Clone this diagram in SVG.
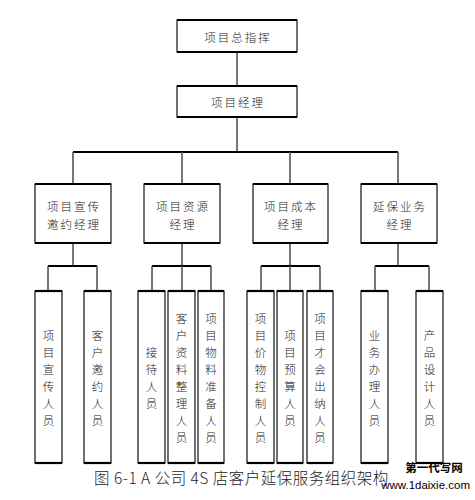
<svg xmlns="http://www.w3.org/2000/svg" width="475" height="500" viewBox="0 0 475 500">
<style>
.box{fill:#fff;stroke:#111;stroke-width:1.2}
.edge{stroke:#000;stroke-width:2.2}
.t{font-family:"Noto Sans CJK SC","Liberation Serif",serif;font-size:11.5px;font-weight:300;fill:#222;text-anchor:middle;dominant-baseline:central;letter-spacing:2px}
.v{font-family:"Noto Sans CJK SC","Liberation Serif",serif;font-size:11.5px;font-weight:300;fill:#222;text-anchor:middle;dominant-baseline:central}
.h{stroke:#000;stroke-width:2;fill:none}
.vl{stroke:#555;stroke-width:1.6;fill:none}
</style>
<g id="connectors">
<line class="vl" x1="237" y1="52" x2="237" y2="86"/>
<line class="vl" x1="237" y1="117" x2="237" y2="152"/>
<line class="h" x1="73" y1="152" x2="398" y2="152"/>
<line class="vl" x1="73" y1="152" x2="73" y2="184"/>
<line class="vl" x1="182" y1="152" x2="182" y2="184"/>
<line class="vl" x1="290" y1="152" x2="290" y2="184"/>
<line class="vl" x1="398" y1="152" x2="398" y2="184"/>
<line class="vl" x1="73" y1="243" x2="73" y2="266"/>
<line class="vl" x1="182" y1="243" x2="182" y2="266"/>
<line class="vl" x1="290" y1="243" x2="290" y2="266"/>
<line class="vl" x1="398" y1="243" x2="398" y2="266"/>
<line class="h" x1="48" y1="266" x2="97" y2="266"/>
<line class="h" x1="152" y1="266" x2="211" y2="266"/>
<line class="h" x1="261" y1="266" x2="320" y2="266"/>
<line class="h" x1="375" y1="266" x2="429" y2="266"/>
<line class="vl" x1="48" y1="266" x2="48" y2="291"/>
<line class="vl" x1="97" y1="266" x2="97" y2="291"/>
<line class="vl" x1="152" y1="266" x2="152" y2="291"/>
<line class="vl" x1="182" y1="266" x2="182" y2="291"/>
<line class="vl" x1="211" y1="266" x2="211" y2="291"/>
<line class="vl" x1="261" y1="266" x2="261" y2="291"/>
<line class="vl" x1="290" y1="266" x2="290" y2="291"/>
<line class="vl" x1="320" y1="266" x2="320" y2="291"/>
<line class="vl" x1="375" y1="266" x2="375" y2="291"/>
<line class="vl" x1="429" y1="266" x2="429" y2="291"/>
</g>
<g id="n-top">
<rect class="box" x="177" y="20" width="120" height="32"/>
<line class="edge" x1="177" y1="20" x2="297" y2="20"/><line class="edge" x1="177" y1="52" x2="297" y2="52"/>
<text class="t" x="238" y="37">项目总指挥</text>
</g>
<g id="n-pm">
<rect class="box" x="177" y="86" width="120" height="31"/>
<line class="edge" x1="177" y1="86" x2="297" y2="86"/><line class="edge" x1="177" y1="117" x2="297" y2="117"/>
<text class="t" x="238" y="102">项目经理</text>
</g>
<g id="n-m1">
<rect class="box" x="35" y="184" width="76" height="59"/>
<line class="edge" x1="35" y1="184" x2="111" y2="184"/><line class="edge" x1="35" y1="243" x2="111" y2="243"/>
<text class="t" x="74" y="206">项目宣传</text><text class="t" x="74" y="224">邀约经理</text>
</g>
<g id="n-m2">
<rect class="box" x="144" y="184" width="76" height="59"/>
<line class="edge" x1="144" y1="184" x2="220" y2="184"/><line class="edge" x1="144" y1="243" x2="220" y2="243"/>
<text class="t" x="183" y="206">项目资源</text><text class="t" x="183" y="224">经理</text>
</g>
<g id="n-m3">
<rect class="box" x="253" y="184" width="75" height="59"/>
<line class="edge" x1="253" y1="184" x2="328" y2="184"/><line class="edge" x1="253" y1="243" x2="328" y2="243"/>
<text class="t" x="291" y="206">项目成本</text><text class="t" x="291" y="224">经理</text>
</g>
<g id="n-m4">
<rect class="box" x="361" y="184" width="76" height="59"/>
<line class="edge" x1="361" y1="184" x2="437" y2="184"/><line class="edge" x1="361" y1="243" x2="437" y2="243"/>
<text class="t" x="400" y="206">延保业务</text><text class="t" x="400" y="224">经理</text>
</g>
<g id="n-b1">
<rect class="box" x="35" y="291" width="27" height="172"/>
<line class="edge" x1="35" y1="291" x2="62" y2="291"/><line class="edge" x1="35" y1="463" x2="62" y2="463"/>
<text class="v" x="48.5" y="334.5">项<tspan x="48.5" dy="17">目</tspan><tspan x="48.5" dy="17">宣</tspan><tspan x="48.5" dy="17">传</tspan><tspan x="48.5" dy="17">人</tspan><tspan x="48.5" dy="17">员</tspan></text>
</g>
<g id="n-b2">
<rect class="box" x="84" y="291" width="27" height="172"/>
<line class="edge" x1="84" y1="291" x2="111" y2="291"/><line class="edge" x1="84" y1="463" x2="111" y2="463"/>
<text class="v" x="97.5" y="334.5">客<tspan x="97.5" dy="17">户</tspan><tspan x="97.5" dy="17">邀</tspan><tspan x="97.5" dy="17">约</tspan><tspan x="97.5" dy="17">人</tspan><tspan x="97.5" dy="17">员</tspan></text>
</g>
<g id="n-b3">
<rect class="box" x="138" y="291" width="27" height="172"/>
<line class="edge" x1="138" y1="291" x2="165" y2="291"/><line class="edge" x1="138" y1="463" x2="165" y2="463"/>
<text class="v" x="151.5" y="351.5">接<tspan x="151.5" dy="17">待</tspan><tspan x="151.5" dy="17">人</tspan><tspan x="151.5" dy="17">员</tspan></text>
</g>
<g id="n-b4">
<rect class="box" x="168" y="291" width="27" height="172"/>
<line class="edge" x1="168" y1="291" x2="195" y2="291"/><line class="edge" x1="168" y1="463" x2="195" y2="463"/>
<text class="v" x="181.5" y="318">客<tspan x="181.5" dy="17">户</tspan><tspan x="181.5" dy="17">资</tspan><tspan x="181.5" dy="17">料</tspan><tspan x="181.5" dy="17">整</tspan><tspan x="181.5" dy="17">理</tspan><tspan x="181.5" dy="17">人</tspan><tspan x="181.5" dy="17">员</tspan></text>
</g>
<g id="n-b5">
<rect class="box" x="198" y="291" width="26" height="172"/>
<line class="edge" x1="198" y1="291" x2="224" y2="291"/><line class="edge" x1="198" y1="463" x2="224" y2="463"/>
<text class="v" x="211" y="318">项<tspan x="211" dy="17">目</tspan><tspan x="211" dy="17">物</tspan><tspan x="211" dy="17">料</tspan><tspan x="211" dy="17">准</tspan><tspan x="211" dy="17">备</tspan><tspan x="211" dy="17">人</tspan><tspan x="211" dy="17">员</tspan></text>
</g>
<g id="n-b6">
<rect class="box" x="247" y="291" width="27" height="172"/>
<line class="edge" x1="247" y1="291" x2="274" y2="291"/><line class="edge" x1="247" y1="463" x2="274" y2="463"/>
<text class="v" x="260.5" y="318">项<tspan x="260.5" dy="17">目</tspan><tspan x="260.5" dy="17">价</tspan><tspan x="260.5" dy="17">物</tspan><tspan x="260.5" dy="17">控</tspan><tspan x="260.5" dy="17">制</tspan><tspan x="260.5" dy="17">人</tspan><tspan x="260.5" dy="17">员</tspan></text>
</g>
<g id="n-b7">
<rect class="box" x="277" y="291" width="26" height="172"/>
<line class="edge" x1="277" y1="291" x2="303" y2="291"/><line class="edge" x1="277" y1="463" x2="303" y2="463"/>
<text class="v" x="290" y="334.5">项<tspan x="290" dy="17">目</tspan><tspan x="290" dy="17">预</tspan><tspan x="290" dy="17">算</tspan><tspan x="290" dy="17">人</tspan><tspan x="290" dy="17">员</tspan></text>
</g>
<g id="n-b8">
<rect class="box" x="307" y="291" width="26" height="172"/>
<line class="edge" x1="307" y1="291" x2="333" y2="291"/><line class="edge" x1="307" y1="463" x2="333" y2="463"/>
<text class="v" x="320" y="318">项<tspan x="320" dy="17">目</tspan><tspan x="320" dy="17">才</tspan><tspan x="320" dy="17">会</tspan><tspan x="320" dy="17">出</tspan><tspan x="320" dy="17">纳</tspan><tspan x="320" dy="17">人</tspan><tspan x="320" dy="17">员</tspan></text>
</g>
<g id="n-b9">
<rect class="box" x="361" y="291" width="27" height="172"/>
<line class="edge" x1="361" y1="291" x2="388" y2="291"/><line class="edge" x1="361" y1="463" x2="388" y2="463"/>
<text class="v" x="374.5" y="334.5">业<tspan x="374.5" dy="17">务</tspan><tspan x="374.5" dy="17">办</tspan><tspan x="374.5" dy="17">理</tspan><tspan x="374.5" dy="17">人</tspan><tspan x="374.5" dy="17">员</tspan></text>
</g>
<g id="n-b10">
<rect class="box" x="416" y="291" width="27" height="172"/>
<line class="edge" x1="416" y1="291" x2="443" y2="291"/><line class="edge" x1="416" y1="463" x2="443" y2="463"/>
<text class="v" x="429.5" y="334.5">产<tspan x="429.5" dy="17">品</tspan><tspan x="429.5" dy="17">设</tspan><tspan x="429.5" dy="17">计</tspan><tspan x="429.5" dy="17">人</tspan><tspan x="429.5" dy="17">员</tspan></text>
</g>
<text x="94" y="484" font-family="Noto Sans CJK SC, Liberation Serif, serif" font-size="15.5" font-weight="300" fill="#222" letter-spacing="0.5">图 6-1 A 公司 4S 店客户延保服务组织架构</text>
<text x="434" y="472" font-family="Noto Sans CJK SC, Liberation Sans, sans-serif" font-size="11.5" font-weight="bold" fill="#000" text-anchor="middle">第一代写网</text>
<text x="470" y="489" font-family="Liberation Sans, sans-serif" font-size="11.5" fill="#000" text-anchor="end">www.1daixie.com</text>
</svg>
